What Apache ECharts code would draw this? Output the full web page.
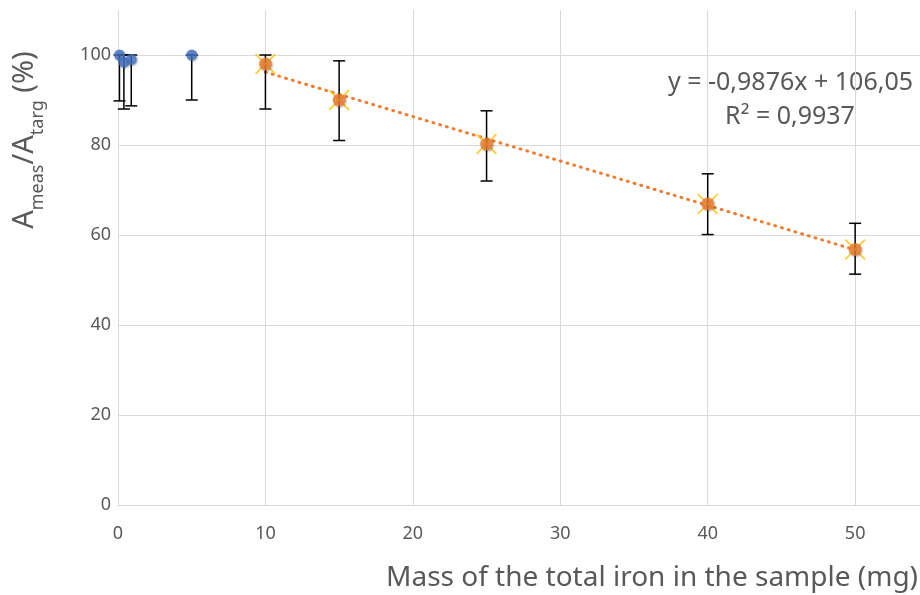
<!DOCTYPE html>
<html>
<head>
<meta charset="utf-8">
<script src="https://cdn.jsdelivr.net/npm/echarts@6/dist/echarts.min.js"></script>
<style>
  html, body { margin: 0; padding: 0; background: #ffffff; }
  #chart { width: 920px; height: 595px; }
</style>
</head>
<body>
<div id="chart"></div>
<script>
// blue points (low iron mass)
var blueX = [0.1, 0.4, 0.9, 5];
var blueY = [100, 98.4, 99, 100];
var blueLow = [89.8, 88, 88.7, 90];
var blueHigh = [100, 100, 100, 100];

// orange points (with trendline)
var orangeX = [10, 15, 25, 40, 50];
var orangeY = [98, 90, 80.2, 66.9, 56.8];
var orangeLow = [88, 81, 72, 60.1, 51.3];
var orangeHigh = [100, 98.7, 87.6, 73.6, 62.6];

// trendline endpoints
var trendX = [10, 50];
var trendY = [96.2, 56.7];

var xTicks = [0, 10, 20, 30, 40, 50];
var yTicks = [0, 20, 40, 60, 80, 100];

function pairs(xs, ys) {
  return xs.map(function (x, i) { return [x, ys[i]]; });
}
function errData(xs, lo, hi) {
  return xs.map(function (x, i) { return [x, lo[i], hi[i]]; });
}

function renderErr(params, api) {
  var x = api.value(0);
  var lo = api.coord([x, api.value(1)]);
  var hi = api.coord([x, api.value(2)]);
  var w = 6;
  var st = { stroke: '#000000', lineWidth: 1.5 };
  return {
    type: 'group',
    children: [
      { type: 'line', shape: { x1: lo[0], y1: lo[1], x2: hi[0], y2: hi[1] }, style: st },
      { type: 'line', shape: { x1: lo[0] - w, y1: lo[1], x2: lo[0] + w, y2: lo[1] }, style: st },
      { type: 'line', shape: { x1: hi[0] - w, y1: hi[1], x2: hi[0] + w, y2: hi[1] }, style: st }
    ]
  };
}

var xMark = 'path://M0,1.2 L1.2,0 L10,8.8 L18.8,0 L20,1.2 L11.2,10 L20,18.8 L18.8,20 L10,11.2 L1.2,20 L0,18.8 L8.8,10 Z';
var shadow = { shadowBlur: 2, shadowColor: 'rgba(0,0,0,0.35)', shadowOffsetX: 1, shadowOffsetY: 1 };

var chart = echarts.init(document.getElementById('chart'));
chart.setOption({
  backgroundColor: '#ffffff',
  animation: false,
  grid: { left: 118, right: 0, top: 10, bottom: 90 },
  xAxis: {
    type: 'value',
    min: 0,
    max: 54.4,
    interval: 10,
    axisLine: { show: true, lineStyle: { color: '#d9d9d9', width: 1 } },
    axisTick: { show: false },
    axisLabel: {
      color: '#595959', fontSize: 18, fontFamily: 'Noto Sans', margin: 20,
      showMaxLabel: false,
      formatter: function (v) { return xTicks.indexOf(v) >= 0 ? String(v) : ''; }
    },
    splitLine: { show: true, showMinLine: true, showMaxLine: false, lineStyle: { color: '#d9d9d9', width: 1 } }
  },
  yAxis: {
    type: 'value',
    min: 0,
    max: 110,
    interval: 20,
    axisLine: { show: false },
    axisTick: { show: false },
    axisLabel: {
      color: '#595959', fontSize: 18, fontFamily: 'Noto Sans', margin: 7,
      showMaxLabel: false,
      formatter: function (v) { return yTicks.indexOf(v) >= 0 ? String(v) : ''; }
    },
    splitLine: { show: true, showMaxLine: false, lineStyle: { color: '#d9d9d9', width: 1 } }
  },
  graphic: [
    {
      type: 'text',
      x: 913, y: 83,
      style: {
        text: 'y = -0,9876x + 106,05',
        fill: '#595959', font: '25px "Noto Sans"',
        align: 'right', verticalAlign: 'middle'
      }
    },
    {
      type: 'text',
      x: 790, y: 117,
      style: {
        text: 'R² = 0,9937',
        fill: '#595959', font: '25px "Noto Sans"',
        align: 'center', verticalAlign: 'middle'
      }
    },
    {
      type: 'text',
      x: 918, y: 578,
      style: {
        text: 'Mass of the total iron in the sample (mg)',
        fill: '#595959', font: '28px "Noto Sans"',
        align: 'right', verticalAlign: 'middle'
      }
    },
    {
      type: 'text',
      x: 22, y: 140,
      rotation: Math.PI / 2,
      style: {
        text: '{m|A}{s|meas}{m|/A}{s|targ}{m| (%)}',
        align: 'center', verticalAlign: 'middle',
        rich: {
          m: { fontSize: 29, fontFamily: 'Noto Sans', fill: '#595959', verticalAlign: 'bottom', lineHeight: 34 },
          s: { fontSize: 18, fontFamily: 'Noto Sans', fill: '#595959', verticalAlign: 'bottom', lineHeight: 34, padding: [0, 0, -8, 0] }
        }
      }
    }
  ],
  series: [
    {
      type: 'line',
      data: pairs(trendX, trendY),
      symbol: 'none',
      lineStyle: { color: '#ED7D31', width: 3, type: [1, 6], cap: 'round' },
      z: 2
    },
    {
      type: 'custom',
      renderItem: renderErr,
      data: errData(blueX, blueLow, blueHigh),
      encode: { x: 0, y: [1, 2] },
      z: 3
    },
    {
      type: 'custom',
      renderItem: renderErr,
      data: errData(orangeX, orangeLow, orangeHigh),
      encode: { x: 0, y: [1, 2] },
      z: 3
    },
    {
      type: 'scatter',
      data: pairs(orangeX, orangeY),
      symbol: xMark,
      symbolSize: 21,
      itemStyle: { color: '#FFC000' },
      z: 4
    },
    {
      type: 'scatter',
      data: pairs(blueX, blueY),
      symbol: 'circle',
      symbolSize: 11,
      itemStyle: Object.assign({ color: '#4472C4' }, shadow),
      z: 5
    },
    {
      type: 'scatter',
      data: pairs(orangeX, orangeY),
      symbol: 'circle',
      symbolSize: 13,
      itemStyle: Object.assign({ color: '#ED7D31' }, shadow),
      z: 5
    }
  ]
});
</script>
</body>
</html>
